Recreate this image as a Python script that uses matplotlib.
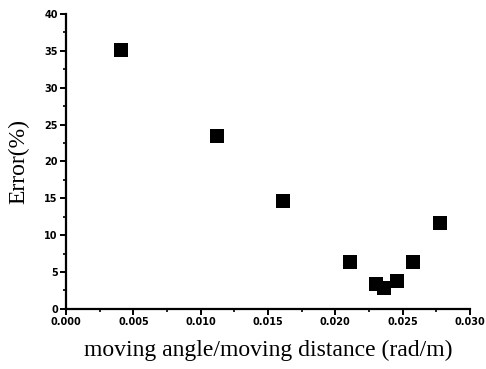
import matplotlib
matplotlib.use("Agg")
import matplotlib.pyplot as plt
from matplotlib.ticker import MultipleLocator

ratio = [0.0041, 0.0112, 0.0161, 0.0211, 0.0230, 0.0236, 0.0246, 0.0258, 0.0278]
error = [35.1, 23.5, 14.7, 6.4, 3.4, 2.8, 3.8, 6.3, 11.6]

fig = plt.figure(figsize=(4.86, 3.69), dpi=100)
ax = fig.add_axes([0.136, 0.163, 0.831, 0.799])
ax.scatter(ratio, error, marker='s', s=10.5**2, color='black', linewidths=0)

ax.set_xlim(0, 0.030)
ax.set_ylim(0, 40)
ax.xaxis.set_major_locator(MultipleLocator(0.005))
ax.xaxis.set_minor_locator(MultipleLocator(0.0025))
ax.yaxis.set_major_locator(MultipleLocator(5))
ax.yaxis.set_minor_locator(MultipleLocator(2.5))
ax.xaxis.set_major_formatter(matplotlib.ticker.FormatStrFormatter('%.3f'))

for s in ['top', 'right']:
    ax.spines[s].set_visible(False)
for s in ['left', 'bottom']:
    ax.spines[s].set_linewidth(1.6)

ax.tick_params(which='major', direction='out', length=4, width=1.4, pad=2)
ax.tick_params(which='minor', direction='out', length=2.5, width=1.2)
for lab in ax.get_xticklabels() + ax.get_yticklabels():
    lab.set_fontfamily('DejaVu Sans')
    lab.set_fontweight('bold')
    lab.set_fontsize(7)

ax.set_xlabel('moving angle/moving distance (rad/m)', family='Liberation Serif',
              fontsize=17, labelpad=9)
ax.set_ylabel('Error(%)', family='Liberation Serif', fontsize=17, labelpad=11)

fig.savefig('out.png', dpi=100, facecolor='white')
